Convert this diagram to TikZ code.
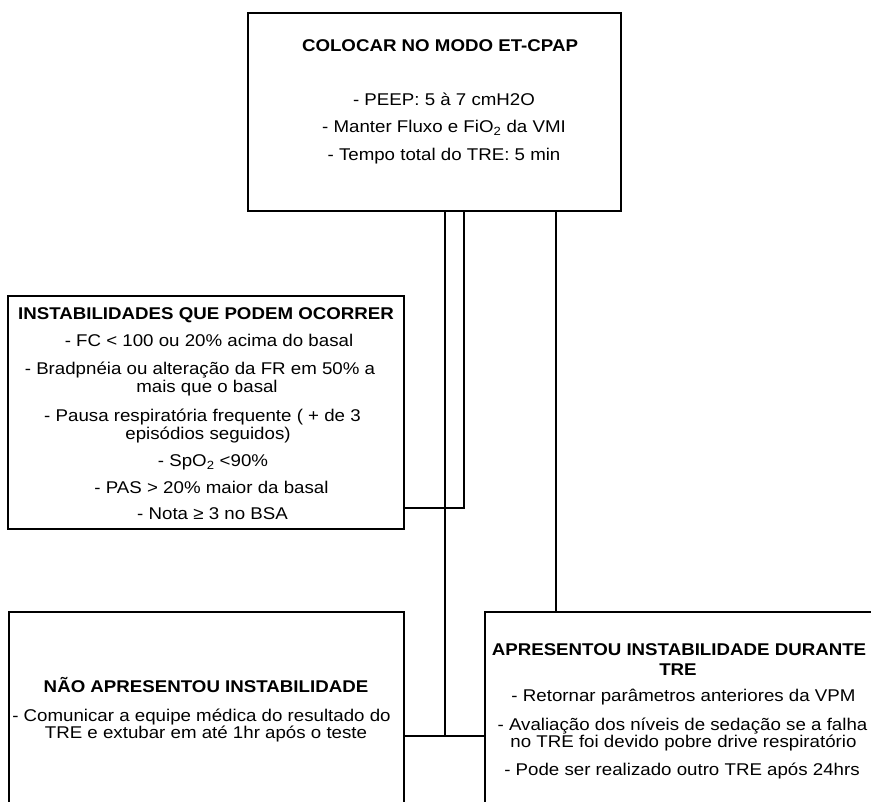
\documentclass[tikz,border=0pt]{standalone}
\usepackage{fontspec}
\setmainfont[FakeStretch=1.1]{Liberation Sans}
\begin{document}
\begin{tikzpicture}[x=1pt,y=-1pt,
  box/.style={draw=black,line width=2.2pt,inner sep=0pt},
  conn/.style={draw=black,line width=2.2pt},
  txt/.style={inner sep=0pt,anchor=base,font=\fontsize{17}{18}\selectfont},
  ttl/.style={inner sep=0pt,anchor=base,font=\fontsize{17}{18}\selectfont\bfseries}]
\useasboundingbox (0,0) rectangle (871,802);
\clip (0,0) rectangle (871,802);
% boxes
\node[box,minimum width=373pt,minimum height=198pt] (top) at (434.5,112) {};
\node[box,minimum width=396pt,minimum height=233pt] (inst) at (206,412.5) {};
\node[box,minimum width=395pt,minimum height=220pt] (nao) at (206.5,722) {};
\node[box,minimum width=394pt,minimum height=220pt] (sim) at (682,722) {};
% connectors
\coordinate (jA) at (445,736);
\coordinate (jB) at (464,508);
\coordinate (jC) at (556,400);
\draw[conn] (top.south -| jA) -- (jA);
\draw[conn] (top.south -| jB) -- (jB) -- (inst.east |- jB);
\draw[conn] (top.south -| jC) -- (sim.north -| jC);
\draw[conn] (nao.east |- jA) -- (sim.west |- jA);
% top text
\node[ttl] (t0) at (440,52) {COLOCAR NO MODO ET-CPAP};
\node[txt] (t1) at (444,106) {- PEEP: 5 à 7 cmH2O};
\node[txt] (t2) at (444,132.5) {- Manter Fluxo e FiO\textsubscript{2} da VMI};
\node[txt] (t3) at (444,160.5) {- Tempo total do TRE: 5 min};
% instabilities
\node[ttl] (i0) at (206,320) {INSTABILIDADES QUE PODEM OCORRER};
\node[txt] (i1) at (209,346.5) {- FC < 100 ou 20\% acima do basal};
\node[txt] (i2) at (200,375) {- Bradpnéia ou alteração da FR em 50\% a};
\node[txt] (i3) at (207,393) {mais que o basal};
\node[txt] (i4) at (202.5,421.5) {- Pausa respiratória frequente ( + de 3};
\node[txt] (i5) at (208,439.5) {episódios seguidos)};
\node[txt] (i6) at (213,466.5) {- SpO\textsubscript{2} <90\%};
\node[txt] (i7) at (211.5,493.5) {- PAS > 20\% maior da basal};
\node[txt] (i8) at (212.5,519.5) {- Nota ≥ 3 no BSA};
% no instability
\node[ttl] (n0) at (206,692.7) {NÃO APRESENTOU INSTABILIDADE};
\node[txt] (n1) at (201.5,721) {- Comunicar a equipe médica do resultado do};
\node[txt] (n2) at (206,738.3) {TRE e extubar em até 1hr após o teste};
% instability
\node[ttl] (r0) at (679,655) {APRESENTOU INSTABILIDADE DURANTE};
\node[ttl] (r1) at (678,675) {TRE};
\node[txt] (r2) at (683.5,701.7) {- Retornar parâmetros anteriores da VPM};
\node[txt] (r3) at (682.5,730) {- Avaliação dos níveis de sedação se a falha};
\node[txt] (r4) at (683.5,747.3) {no TRE foi devido pobre drive respiratório};
\node[txt] (r5) at (682,775) {- Pode ser realizado outro TRE após 24hrs};
\end{tikzpicture}
\end{document}
